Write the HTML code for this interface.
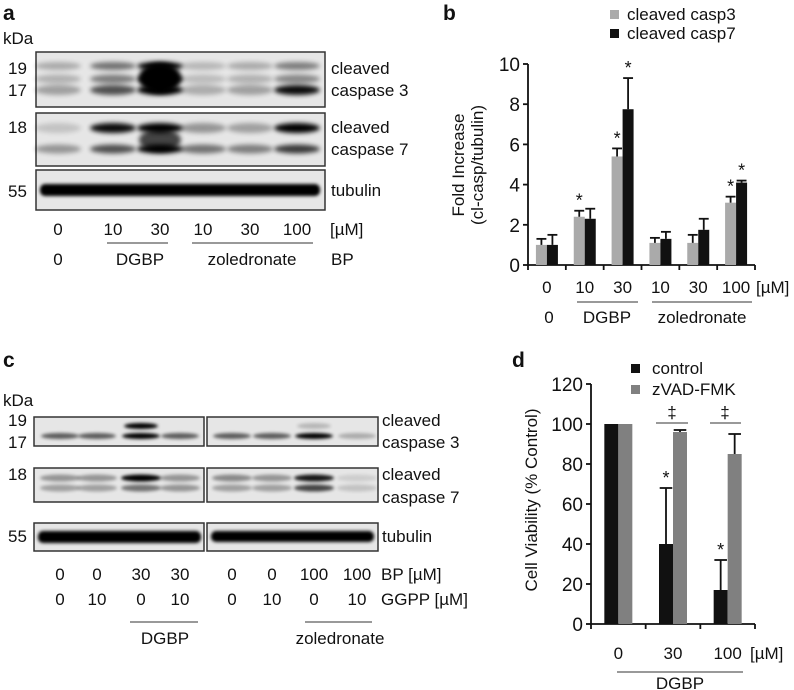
<!DOCTYPE html>
<html><head><meta charset="utf-8">
<style>
body{margin:0;background:#fff;}
svg{display:block;font-family:"Liberation Sans",Arial,sans-serif;}
text{fill:#111;}
</style></head>
<body>
<svg id="fig" width="794" height="690" viewBox="0 0 794 690" xmlns="http://www.w3.org/2000/svg">
<defs>
<filter id="bl" x="-20%" y="-100%" width="140%" height="300%"><feGaussianBlur stdDeviation="2.5"/></filter>
<filter id="bl2" x="-20%" y="-100%" width="140%" height="300%"><feGaussianBlur stdDeviation="1.5"/></filter>
</defs>

<!-- Panel a -->
<g>
<text x="3" y="20" font-size="21" font-weight="bold">a</text>
<text x="3" y="44" font-size="17">kDa</text>
<text x="8" y="74" font-size="17">19</text>
<text x="8" y="96" font-size="17">17</text>
<text x="8" y="133" font-size="17">18</text>
<text x="8" y="197" font-size="17">55</text>
<g id="blotA"></g>
<text x="331" y="74" font-size="17">cleaved</text>
<text x="331" y="96" font-size="17">caspase 3</text>
<text x="331" y="133" font-size="17">cleaved</text>
<text x="331" y="155" font-size="17">caspase 7</text>
<text x="331" y="196" font-size="17">tubulin</text>
<g font-size="17" text-anchor="middle">
<text x="58" y="235">0</text><text x="113" y="235">10</text><text x="160" y="235">30</text>
<text x="203" y="235">10</text><text x="250" y="235">30</text><text x="297" y="235">100</text>
<text x="58" y="265">0</text><text x="140" y="265">DGBP</text><text x="252" y="265">zoledronate</text>
</g>
<text x="330" y="235" font-size="17">[µM]</text>
<text x="331" y="265" font-size="17">BP</text>
<line x1="107" y1="243" x2="168" y2="243" stroke="#333" stroke-width="1"/>
<line x1="192" y1="243" x2="313" y2="243" stroke="#333" stroke-width="1"/>
</g>

<!-- Panel b -->
<g>
<text x="443" y="20" font-size="21" font-weight="bold">b</text>
<rect x="610" y="10" width="9" height="9" fill="#aaa"/>
<text x="627" y="20" font-size="17">cleaved casp3</text>
<rect x="610" y="29" width="9" height="9" fill="#111"/>
<text x="627" y="39" font-size="17">cleaved casp7</text>
<g id="chartB"></g>
<text transform="translate(464,165) rotate(-90)" text-anchor="middle" font-size="17">Fold Increase</text>
<text transform="translate(483,165) rotate(-90)" text-anchor="middle" font-size="17">(cl-casp/tubulin)</text>
<text x="756" y="293" font-size="17">[µM]</text>
<g font-size="17" text-anchor="middle">
<text x="549" y="323">0</text><text x="607" y="323">DGBP</text><text x="702" y="323">zoledronate</text>
</g>
<line x1="577" y1="302" x2="638" y2="302" stroke="#333"/>
<line x1="652" y1="302" x2="752" y2="302" stroke="#333"/>
</g>

<!-- Panel c -->
<g>
<text x="3" y="367" font-size="21" font-weight="bold">c</text>
<text x="3" y="406" font-size="17">kDa</text>
<text x="8" y="426" font-size="17">19</text>
<text x="8" y="448" font-size="17">17</text>
<text x="8" y="480" font-size="17">18</text>
<text x="8" y="542" font-size="17">55</text>
<g id="blotC"></g>
<text x="382" y="426" font-size="17">cleaved</text>
<text x="382" y="448" font-size="17">caspase 3</text>
<text x="382" y="480" font-size="17">cleaved</text>
<text x="382" y="503" font-size="17">caspase 7</text>
<text x="382" y="542" font-size="17">tubulin</text>
<g font-size="17" text-anchor="middle">
<text x="60" y="580">0</text><text x="97" y="580">0</text><text x="141" y="580">30</text><text x="180" y="580">30</text>
<text x="232" y="580">0</text><text x="272" y="580">0</text><text x="314" y="580">100</text><text x="357" y="580">100</text>
<text x="60" y="605">0</text><text x="97" y="605">10</text><text x="141" y="605">0</text><text x="180" y="605">10</text>
<text x="232" y="605">0</text><text x="272" y="605">10</text><text x="314" y="605">0</text><text x="357" y="605">10</text>
<text x="165" y="644">DGBP</text><text x="340" y="644">zoledronate</text>
</g>
<text x="381" y="580" font-size="17">BP [µM]</text>
<text x="381" y="605" font-size="17">GGPP [µM]</text>
<line x1="130" y1="622" x2="198" y2="622" stroke="#333"/>
<line x1="305" y1="622" x2="372" y2="622" stroke="#333"/>
</g>

<!-- Panel d -->
<g>
<text x="512" y="367" font-size="21" font-weight="bold">d</text>
<rect x="631" y="364" width="9" height="9" fill="#111"/>
<text x="652" y="374" font-size="17">control</text>
<rect x="631" y="385" width="9" height="9" fill="#808080"/>
<text x="652" y="395" font-size="17">zVAD-FMK</text>
<g id="chartD"></g>
<text transform="translate(537,500) rotate(-90)" text-anchor="middle" font-size="17">Cell Viability (% Control)</text>
<text x="750" y="659" font-size="17">[µM]</text>
<text x="680" y="689" font-size="17" text-anchor="middle">DGBP</text>
<line x1="617" y1="672" x2="743" y2="672" stroke="#333"/>
<line x1="656" y1="423" x2="688" y2="423" stroke="#333"/>
<line x1="710" y1="423" x2="741" y2="423" stroke="#333"/>
<text x="672" y="418" font-size="17" text-anchor="middle">‡</text>
<text x="725" y="418" font-size="17" text-anchor="middle">‡</text>
</g>
</svg>

<script>
// ---- Chart b data ----
const bCats = ["0","10","30","10","30","100"];
const bCasp3 = [1.0, 2.4, 5.4, 1.1, 1.1, 3.1];
const bCasp3Err = [0.3, 0.3, 0.4, 0.25, 0.4, 0.3];
const bCasp7 = [1.0, 2.3, 7.75, 1.3, 1.75, 4.1];
const bCasp7Err = [0.5, 0.5, 1.55, 0.35, 0.55, 0.1];
const bStar3 = [false, true, true, false, false, true];
const bStar7 = [false, false, true, false, false, true];
const bTicks = [0, 2, 4, 6, 8, 10];
// ---- Chart d data ----
const dCats = ["0","30","100"];
const dControl = [100, 40, 17];
const dControlErr = [0, 28, 15];
const dZvad = [100, 96, 85];
const dZvadErr = [0, 1, 10];
const dStar = [false, true, true];
const dTicks = [0, 20, 40, 60, 80, 100, 120];

const NS = "http://www.w3.org/2000/svg";
function mk(tag, attrs, parent){const e=document.createElementNS(NS,tag);for(const k in attrs)e.setAttribute(k,attrs[k]);parent.appendChild(e);return e;}

function barChart(g, o){
  const yS = v => o.y0 - (v - o.min) / (o.max - o.min) * (o.y0 - o.y1);
  const gw = (o.x1 - o.x0) / o.cats.length;
  mk('line',{x1:o.x0,y1:o.y1,x2:o.x0,y2:o.y0,stroke:'#111','stroke-width':1.8},g);
  mk('line',{x1:o.x0,y1:o.y0,x2:o.x1,y2:o.y0,stroke:'#111','stroke-width':1.8},g);
  o.ticks.forEach(t=>{
    const y=yS(t);
    mk('line',{x1:o.x0-5,y1:y,x2:o.x0,y2:y,stroke:'#111','stroke-width':1.8},g);
    const tx=mk('text',{x:o.x0-8,y:y+7,'font-size':19,'text-anchor':'end'},g);tx.textContent=t;
  });
  for(let i=0;i<=o.cats.length;i++){
    const x=o.x0+i*gw;
    mk('line',{x1:x,y1:o.y0,x2:x,y2:o.y0+5,stroke:'#111','stroke-width':1.8},g);
  }
  o.cats.forEach((c,i)=>{
    const cx=o.x0+(i+0.5)*gw;
    const tx=mk('text',{x:cx,y:o.y0+o.lab,'font-size':17,'text-anchor':'middle'},g);tx.textContent=c;
    o.series.forEach((s,j)=>{
      const x = cx - o.bw + j*o.bw;
      const v=s.vals[i], top=yS(v);
      const r=mk('rect',{x:x,y:top,width:o.bw,height:o.y0-top,fill:s.color},g);
      
      
      const e=s.err[i];
      const mx=x+o.bw/2;
      if(e>0){
        const ey=yS(v+e);
        mk('line',{x1:mx,y1:top,x2:mx,y2:ey,stroke:'#111','stroke-width':1.8},g);
        mk('line',{x1:mx-o.bw*0.45,y1:ey,x2:mx+o.bw*0.45,y2:ey,stroke:'#111','stroke-width':1.8},g);
      }
      if(s.star[i]){
        const st=mk('text',{x:mx,y:yS(v+e)-4,'font-size':18,'text-anchor':'middle'},g);st.textContent='*';
      }
    });
  });
}
barChart(document.getElementById('chartB'),{x0:528,x1:755,y0:265,y1:64,min:0,max:10,cats:bCats,ticks:bTicks,bw:11,lab:28,
  series:[{name:'casp3',vals:bCasp3,err:bCasp3Err,star:bStar3,color:'#aaa'},{name:'casp7',vals:bCasp7,err:bCasp7Err,star:bStar7,color:'#111'}]});
barChart(document.getElementById('chartD'),{x0:591,x1:755,y0:624,y1:384,min:0,max:120,cats:dCats,ticks:dTicks,bw:14,lab:35,
  series:[{name:'control',vals:dControl,err:dControlErr,star:dStar,color:'#111'},{name:'zvad',vals:dZvad,err:dZvadErr,star:[false,false,false],color:'#808080'}]});

// ---- blots (illustrative) ----
function box(g,x,y,w,h,name){
  const r=mk('rect',{x:x,y:y,width:w,height:h,fill:'#e6e6e6',stroke:'#333','stroke-width':1.5},g);
  
  
}
function band(g,cx,cy,w,h,op,f){mk('ellipse',{cx:cx,cy:cy,rx:w/2,ry:h/2,fill:'#000',opacity:op,filter:'url(#'+(f||'bl')+')'},g);}
const gA=document.getElementById('blotA');
const laneA=[58,113,160,203,250,297];
box(gA,36,52,289,55,'blot-a-casp3');
box(gA,36,113,289,53,'blot-a-casp7');
box(gA,36,170,289,40,'blot-a-tubulin');
const a3top=[0.25,0.5,1,0.2,0.25,0.45], a3bot=[0.3,0.65,1,0.25,0.3,0.95];
laneA.forEach((x,i)=>{band(gA,x,66,46,8,a3top[i]);band(gA,x,79,46,9,a3top[i]*0.9);band(gA,x,90,46,10,a3bot[i]);});
band(gA,160,78,42,30,1);
const a7top=[0.15,0.95,1,0.35,0.3,1], a7bot=[0.35,0.65,1,0.5,0.45,0.75];
laneA.forEach((x,i)=>{band(gA,x,128,46,10,a7top[i]);band(gA,x,149,46,9,a7bot[i]);});
band(gA,160,140,42,22,0.7);
mk('rect',{x:40,y:184,width:280,height:12,rx:5,fill:'#000',filter:'url(#bl2)'},gA);

const gC=document.getElementById('blotC');
const laneC=[60,97,141,180,232,272,314,357];
[[34,170],[207,171]].forEach(([x,w],k)=>{
  box(gC,x,417,w,29,'blot-c-casp3-'+k);
  box(gC,x,468,w,34,'blot-c-casp7-'+k);
  box(gC,x,523,w,28,'blot-c-tubulin-'+k);
});
const c19=[0,0,1,0,0,0,0.2,0], c17=[0.6,0.6,1,0.6,0.6,0.6,1,0.25];
laneC.forEach((x,i)=>{if(c19[i])band(gC,x,426,34,6,c19[i],'bl2');band(gC,x,436,38,6,c17[i],'bl2');});
const c7a=[0.35,0.35,1,0.35,0.4,0.35,0.9,0.1], c7b=[0.3,0.3,0.5,0.35,0.3,0.3,0.7,0.15];
laneC.forEach((x,i)=>{band(gC,x,478,40,7,c7a[i],'bl2');band(gC,x,488,40,7,c7b[i],'bl2');});
mk('rect',{x:38,y:531,width:163,height:12,rx:5,fill:'#000',filter:'url(#bl2)'},gC);
mk('rect',{x:211,y:531,width:163,height:11,rx:5,fill:'#000',filter:'url(#bl2)'},gC);
</script>
</body></html>
